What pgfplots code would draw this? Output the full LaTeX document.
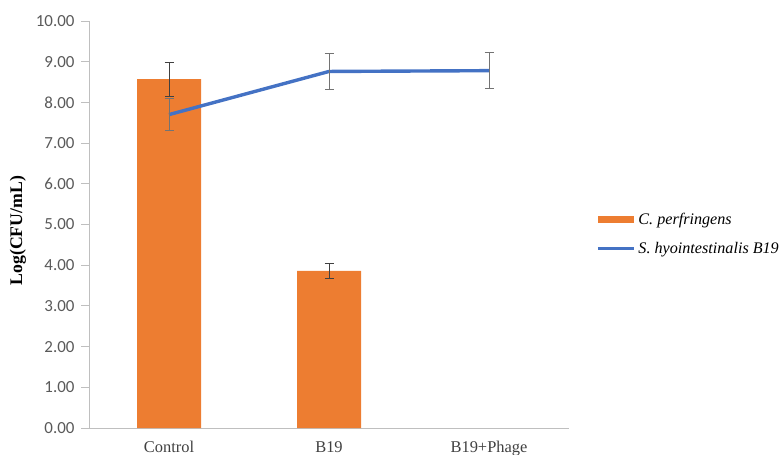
\documentclass[border=0pt]{standalone}
\usepackage{fontspec}
\setmainfont{Liberation Serif}
\newfontfamily\ticksf{Carlito}
\usepackage{pgfplots}
\pgfplotsset{compat=1.18}

\definecolor{barorange}{HTML}{ED7D31}
\definecolor{lineblue}{HTML}{4472C4}
\definecolor{axisgray}{HTML}{BFBFBF}
\definecolor{ticktext}{HTML}{595959}
\definecolor{cattext}{HTML}{404040}

\begin{document}
\begin{tikzpicture}
\path[use as bounding box] (0,0) rectangle (781bp,455bp);
\begin{axis}[
  at={(169bp,27bp)}, anchor=origin,
  scale only axis,
  width=480bp, height=407bp,
  xmin=-0.5, xmax=2.5,
  ymin=0, ymax=10,
  axis x line*=bottom, axis y line*=left,
  axis line style={draw=axisgray, line width=0.8bp},
  xtick={0,1,2},
  xticklabels={Control, B19, B19+Phage},
  major x tick style={draw=none},
  ytick={0,1,...,10},
  major tick length=8bp,
  tick align=outside,
  major y tick style={draw=axisgray, line width=0.8bp},
  /pgf/number format/assume math mode=true,
  yticklabel={\pgfmathprintnumber[fixed, fixed zerofill, precision=2]{\tick}},
  yticklabel style={font=\ticksf\fontsize{17}{17}\selectfont, text=ticktext, xshift=-3bp},
  xticklabel style={font=\fontsize{16.5}{16.5}\selectfont, text=cattext, yshift=-2bp},
  ylabel={Log(CFU/mL)},
  every axis y label/.style={at={(axis description cs:-0.148,0.485)}, rotate=90, anchor=center,
    font=\bfseries\fontsize{17.8}{17.8}\selectfont},
  legend style={at={(axis description cs:1.056,0.528)}, anchor=north west,
    draw=none, fill=none, inner sep=0pt, row sep=16bp,
    font=\itshape\fontsize{16.2}{16.2}\selectfont,
    nodes={inner xsep=3bp, inner ysep=0pt}},
  legend cell align=left,
  clip=false,
]
% C. perfringens counts (bars)
\addplot[ybar, bar width=0.4, bar shift=0pt, fill=barorange, draw=none,
  legend image code/.code={\fill[barorange] (0bp,-3.5bp) rectangle (36bp,3.5bp);},
  error bars/.cd, y dir=both, y explicit,
  error bar style={draw=black!75, line width=0.75bp},
  error mark options={rotate=90, mark size=4.5bp, line width=0.75bp, draw=black!75},
] coordinates {
  (0,8.57) +- (0,0.42)
  (1,3.86) +- (0,0.19)
};
\addlegendentry{C. perfringens}
% S. hyointestinalis B19 counts (line)
\addplot[lineblue, line width=3.4bp, no markers,
  legend image code/.code={\draw[lineblue, line width=3.4bp] (0bp,0bp) -- (36bp,0bp);},
  error bars/.cd, y dir=both, y explicit,
  error bar style={draw=black!55, line width=0.75bp},
  error mark options={rotate=90, mark size=4.5bp, line width=0.75bp, draw=black!55},
] coordinates {
  (0,7.70) +- (0,0.39)
  (1,8.76) +- (0,0.44)
  (2,8.78) +- (0,0.44)
};
\addlegendentry{S. hyointestinalis B19}
\end{axis}
\end{tikzpicture}
\end{document}
